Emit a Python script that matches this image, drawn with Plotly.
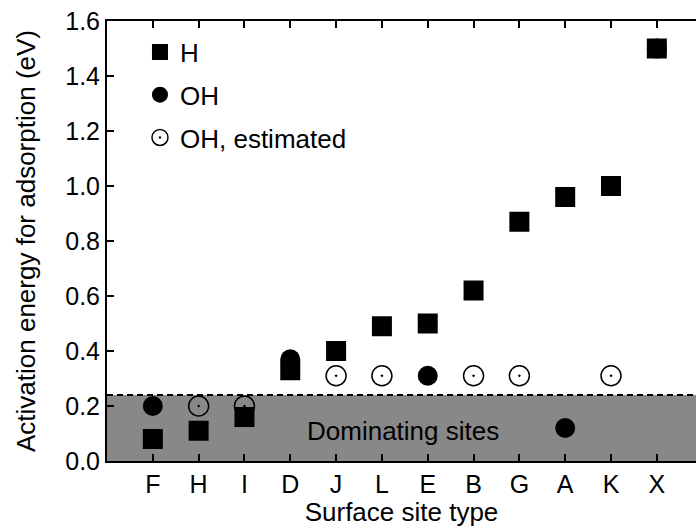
import plotly.graph_objects as go

sites = ["F", "H", "I", "D", "J", "L", "E", "B", "G", "A", "K", "X"]

h_sites = ["F", "H", "I", "D", "J", "L", "E", "B", "G", "A", "K", "X"]
h_vals = [0.08, 0.11, 0.16, 0.33, 0.40, 0.49, 0.50, 0.62, 0.87, 0.96, 1.00, 1.50]

oh_sites = ["F", "D", "E", "A", "X"]
oh_vals = [0.20, 0.37, 0.31, 0.12, 1.50]

ohe_sites = ["H", "I", "J", "L", "B", "G", "K"]
ohe_vals = [0.20, 0.20, 0.31, 0.31, 0.31, 0.31, 0.31]

dominating_threshold = 0.24

FONT = "Liberation Sans, Arial, Helvetica, sans-serif"
FS = 26
TFS = 25

idx = {s: i for i, s in enumerate(sites)}
xr = [-1, 11.855]

fig = go.Figure()

fig.add_shape(type="rect", xref="paper", yref="y", x0=0, x1=1, y0=0, y1=dominating_threshold,
              fillcolor="#888888", line=dict(width=0, color="rgba(0,0,0,0)"), layer="below")
fig.add_shape(type="line", xref="paper", yref="y", x0=0, x1=1,
              y0=dominating_threshold, y1=dominating_threshold,
              line=dict(color="black", width=2, dash="6px,4px"))

fig.add_trace(go.Scatter(
    x=[idx[s] for s in ohe_sites], y=ohe_vals, mode="markers", name="OH, estimated",
    legendrank=3, legendgroup="ohe",
    marker=dict(symbol="circle-open-dot", size=20, color="black", line=dict(width=1.5, color="black")),
))
fig.add_trace(go.Scatter(
    x=[idx[s] for s in oh_sites], y=oh_vals, mode="markers", name="OH",
    legendrank=2, legendgroup="oh",
    marker=dict(symbol="circle", size=20, color="black", line=dict(width=0)),
))
fig.add_trace(go.Scatter(
    x=[idx[s] for s in h_sites], y=h_vals, mode="markers", name="H",
    legendrank=1, legendgroup="h",
    marker=dict(symbol="square", size=20, color="black", line=dict(width=0)),
))

fig.add_annotation(x=5.45, y=0.11, xref="x", yref="y", text="Dominating sites",
                   showarrow=False, font=dict(family=FONT, size=FS, color="black"))

fig.update_layout(
    width=696, height=527,
    margin=dict(l=107, r=0, t=21, b=66),
    paper_bgcolor="white", plot_bgcolor="white",
    font=dict(family=FONT, size=FS, color="black"),
    showlegend=True,
    legend=dict(x=0.056, y=0.983, xanchor="left", yanchor="top", bgcolor="rgba(0,0,0,0)",
                borderwidth=0,
                font=dict(family=FONT, size=FS), tracegroupgap=6, itemsizing="trace"),
    xaxis=dict(
        range=xr, tickmode="array", tickvals=list(range(len(sites))), ticktext=sites,
        showgrid=False, zeroline=False, showline=True, linecolor="black", linewidth=2,
        mirror=False, ticks="inside", ticklen=7, tickwidth=1.5, tickcolor="black",
        title=dict(text="Surface site type", standoff=6, font=dict(family=FONT, size=FS)),
        tickfont=dict(family=FONT, size=TFS),
    ),
    xaxis2=dict(
        overlaying="x", side="top", anchor="y", matches="x", range=xr,
        tickmode="array", tickvals=list(range(len(sites))), showticklabels=False,
        showgrid=False, zeroline=False, showline=True, linecolor="black", linewidth=2,
        mirror=False, ticks="inside", ticklen=7, tickwidth=1.5, tickcolor="black",
    ),
    yaxis=dict(
        range=[0, 1.6], tickmode="array", tickvals=[0, 0.2, 0.4, 0.6, 0.8, 1.0, 1.2, 1.4, 1.6],
        tickformat=".1f",
        showgrid=False, zeroline=False, showline=True, linecolor="black", linewidth=2,
        mirror=False, ticks="inside", ticklen=7, tickwidth=1.5, tickcolor="black",
        title=dict(text="Activation energy for adsorption (eV)", standoff=22, font=dict(family=FONT, size=FS)),
        tickfont=dict(family=FONT, size=TFS),
    ),
)

fig.add_trace(go.Scatter(x=[idx[sites[0]]], y=[h_vals[0]], xaxis="x2", yaxis="y", mode="markers",
                         marker=dict(opacity=0), showlegend=False, hoverinfo="skip"))

fig.write_html("out.html", config={"displayModeBar": False})
